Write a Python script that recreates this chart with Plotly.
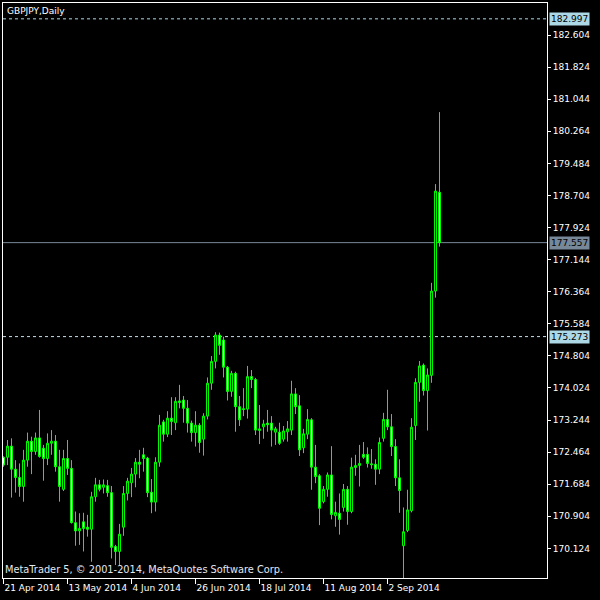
import pandas as pd
import plotly.graph_objects as go

# Trading days (daily bars, GBPJPY) 21 Apr 2014 .. 19 Sep 2014
dates = pd.bdate_range("2014-04-21", "2014-09-19").strftime("%Y-%m-%d").tolist()

opens = [172.34, 172.34, 172.61, 172.05, 171.85, 171.63, 172.27, 172.73, 172.48, 172.81,
         172.56, 172.31, 172.68, 172.73, 172.11, 171.56, 172.31, 172.07, 170.75, 170.55,
         170.77, 170.64, 170.59, 171.38, 171.67, 171.61, 171.65, 171.48, 170.17, 170.05,
         170.64, 171.46, 171.72, 171.93, 172.22, 172.40, 172.32, 171.49, 171.25, 172.22,
         173.20, 172.90, 173.29, 173.18, 173.71, 173.73, 173.53, 173.17, 172.94, 173.12,
         172.78, 173.34, 174.14, 174.67, 175.31, 175.19, 174.53, 173.94, 174.38, 173.57,
         173.52, 173.51, 174.30, 174.23, 172.99, 173.08, 173.17, 173.17, 172.95, 172.95,
         172.78, 172.96, 173.00, 173.88, 173.59, 172.57, 172.90, 173.25, 172.10, 171.89,
         171.26, 171.56, 171.91, 170.92, 170.98, 171.12, 171.56, 171.02, 172.09, 172.14,
         172.41, 172.41, 172.18, 172.17, 172.05, 172.80, 173.26, 173.08, 172.60, 171.84,
         170.19, 170.56, 171.04, 173.11, 174.16, 174.58, 173.96, 174.33, 176.38, 178.78]
highs = [172.36, 172.76, 172.80, 172.27, 172.19, 172.52, 172.94, 172.84, 172.94, 173.49,
         172.64, 172.92, 173.00, 172.88, 172.52, 172.52, 172.76, 172.27, 171.02, 170.98,
         170.99, 170.94, 171.50, 171.84, 171.79, 171.80, 171.79, 171.64, 170.21, 170.72,
         171.64, 171.84, 172.08, 172.32, 172.52, 172.57, 172.35, 171.81, 172.34, 173.37,
         173.25, 173.46, 173.80, 173.80, 174.10, 173.83, 173.73, 173.23, 173.46, 173.17,
         173.41, 174.28, 174.80, 175.38, 175.37, 175.27, 174.56, 174.44, 174.42, 173.83,
         174.02, 174.56, 174.46, 174.27, 173.61, 173.25, 173.49, 173.34, 173.08, 173.18,
         173.10, 173.22, 174.20, 174.02, 173.85, 173.03, 173.51, 173.29, 172.64, 171.93,
         171.64, 171.97, 172.61, 171.26, 171.46, 171.69, 171.64, 172.33, 172.40, 172.64,
         172.71, 172.58, 172.54, 172.29, 172.82, 173.42, 173.98, 173.39, 172.78, 172.29,
         171.12, 171.55, 173.29, 174.26, 174.68, 174.62, 174.50, 176.58, 178.98, 180.73]
lows = [172.11, 172.15, 171.36, 171.48, 171.38, 171.26, 172.11, 171.93, 172.40, 172.33,
        171.77, 172.15, 172.40, 171.99, 171.26, 171.52, 171.91, 170.73, 170.19, 170.21,
        170.05, 170.41, 169.80, 171.26, 171.51, 171.46, 171.38, 169.88, 169.72, 169.72,
        170.43, 171.29, 171.37, 171.61, 171.83, 171.99, 171.37, 170.98, 171.02, 172.11,
        172.72, 172.83, 172.88, 173.00, 173.53, 173.18, 172.94, 172.72, 172.60, 172.45,
        172.38, 173.26, 173.98, 174.50, 174.83, 174.28, 173.72, 173.81, 172.96, 173.10,
        173.34, 173.28, 174.02, 172.88, 172.66, 172.79, 172.96, 172.60, 172.64, 172.64,
        172.72, 172.72, 172.88, 173.39, 172.37, 172.44, 172.78, 171.55, 171.71, 170.69,
        171.22, 171.38, 170.83, 170.65, 170.46, 171.02, 170.70, 170.98, 171.89, 171.63,
        172.30, 172.09, 172.06, 171.67, 171.93, 172.72, 173.00, 172.37, 171.64, 170.99,
        169.30, 170.52, 171.00, 172.76, 173.69, 173.84, 172.99, 174.15, 176.22, 177.46]
closes = [172.15, 172.61, 172.05, 171.85, 171.63, 172.27, 172.73, 172.48, 172.81, 172.36,
          172.31, 172.68, 172.73, 172.11, 171.63, 172.31, 172.07, 170.75, 170.55, 170.61,
          170.61, 170.59, 171.38, 171.67, 171.56, 171.67, 171.48, 170.15, 170.05, 170.47,
          171.46, 171.76, 171.93, 172.22, 172.17, 172.31, 171.48, 171.25, 172.22, 173.12,
          172.90, 173.29, 173.21, 173.70, 173.67, 173.53, 173.17, 172.94, 173.12, 172.70,
          173.34, 174.14, 174.67, 175.31, 175.06, 174.53, 173.94, 174.38, 173.57, 173.25,
          173.50, 174.30, 174.23, 173.00, 173.03, 173.15, 173.13, 173.00, 173.03, 172.68,
          172.98, 173.03, 173.88, 173.57, 172.52, 172.91, 173.26, 172.10, 171.87, 171.10,
          171.56, 171.91, 170.95, 171.00, 170.83, 171.56, 171.02, 172.10, 172.14, 172.19,
          172.34, 172.19, 172.16, 172.05, 172.70, 173.26, 173.08, 172.60, 171.84, 171.53,
          170.53, 171.06, 173.07, 174.16, 174.56, 173.96, 174.34, 176.38, 178.81, 177.557]

tick_dates = ["2014-04-21", "2014-05-13", "2014-06-04", "2014-06-26",
              "2014-07-18", "2014-08-11", "2014-09-02"]
tick_labels = ["21 Apr 2014", "13 May 2014", "4 Jun 2014", "26 Jun 2014",
               "18 Jul 2014", "11 Aug 2014", "2 Sep 2014"]
price_ticks = [170.124, 170.904, 171.684, 172.464, 173.244, 174.024, 174.804, 175.584,
               176.364, 177.144, 177.924, 178.704, 179.484, 180.264, 181.044, 181.824, 182.604]

level_high = 182.997
level_low = 175.273
bid = 177.557

fig = go.Figure(go.Candlestick(
    x=dates, open=opens, high=highs, low=lows, close=closes,
    increasing=dict(line=dict(color="#00ff00", width=1), fillcolor="#000000"),
    decreasing=dict(line=dict(color="#00ff00", width=1), fillcolor="#ffffff"),
    whiskerwidth=0, hoverinfo="skip", showlegend=False,
))

for lvl, col, dash in [(level_high, "#add8e6", "3px,3px"),
                       (level_low, "#c8dfe8", "3px,3px"),
                       (bid, "#778899", "solid")]:
    fig.add_shape(type="line", xref="paper", yref="y", x0=0, x1=1, y0=lvl, y1=lvl,
                  line=dict(color=col, width=1, dash=dash), layer="below")

for lvl, bg in [(level_high, "#add8e6"), (level_low, "#add8e6"), (bid, "#778899")]:
    fig.add_annotation(xref="paper", yref="y", x=1, y=lvl, xanchor="left", yanchor="middle",
                       text=f"{lvl:.3f}", showarrow=False, bgcolor=bg, borderpad=1,
                       xshift=2, font=dict(color="black", size=9, family="DejaVu Sans"))

fig.add_annotation(xref="paper", yref="paper", x=0, y=1, xanchor="left", yanchor="top",
                   text="GBPJPY,Daily", showarrow=False, xshift=2, yshift=-1,
                   font=dict(color="white", size=9, family="DejaVu Sans"))
fig.add_annotation(xref="paper", yref="paper", x=0, y=0, xanchor="left", yanchor="bottom",
                   text="MetaTrader 5, © 2001-2014, MetaQuotes Software Corp.", showarrow=False,
                   xshift=0, yshift=1,
                   font=dict(color="#e4e8f0", size=9.8, family="DejaVu Sans"))

fig.update_layout(
    width=600, height=600,
    margin=dict(l=3, r=53, t=3, b=22, pad=0, autoexpand=False),
    paper_bgcolor="black", plot_bgcolor="black",
    font=dict(family="DejaVu Sans", size=9, color="white"),
    showlegend=False,
    xaxis=dict(type="category", range=[-0.125, 135.875], rangeslider=dict(visible=False),
               tickmode="array", tickvals=tick_dates, ticktext=tick_labels,
               ticks="outside", ticklen=5, tickcolor="white", tickwidth=1,
               ticklabelposition="outside right", tickangle=0, automargin=False,
               ticklabelstandoff=1,
               showline=True, linecolor="white", linewidth=1, mirror=True,
               showgrid=False, zeroline=False, fixedrange=True),
    yaxis=dict(side="right", range=[169.405, 183.382], tickmode="array",
               tickvals=price_ticks, ticktext=[f"{v:.3f}" for v in price_ticks],
               ticks="outside", ticklen=3, tickcolor="white", tickwidth=1, automargin=False,
               showline=True, linecolor="white", linewidth=1, mirror=True,
               showgrid=False, zeroline=False, fixedrange=True),
)

fig.write_html("out.html", config={"displayModeBar": False},
               post_script="document.body.style.margin='0';document.body.style.overflow='hidden';")
